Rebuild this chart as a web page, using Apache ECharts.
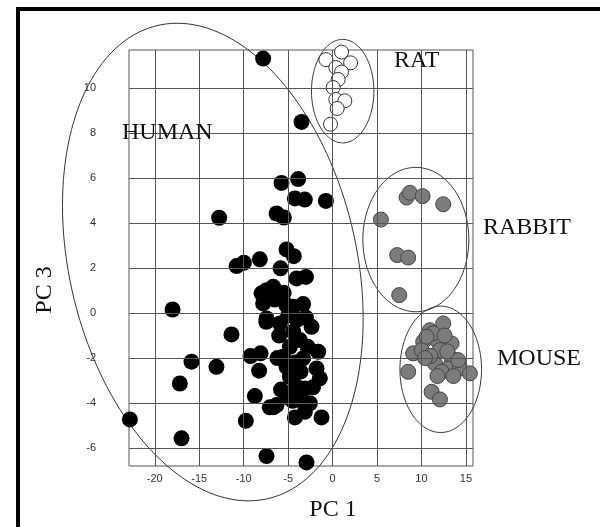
<!DOCTYPE html>
<html>
<head>
<meta charset="utf-8">
<script src="https://cdn.jsdelivr.net/npm/echarts@6/dist/echarts.min.js"></script>
<style>
html,body{margin:0;padding:0;background:#fff;}
#chart{width:600px;height:527px;}
</style>
</head>
<body>
<div id="chart"></div>
<script>
// ---- data ----
var xTicks = [-20, -15, -10, -5, 0, 5, 10, 15];
var yTicks = [-6, -4, -2, 0, 2, 4, 6, 8, 10];

var humanPoints = [
  [-7.81,11.32],[-3.49,8.50],
  [-5.74,5.79],[-3.87,5.96],[-4.24,5.10],[-3.12,5.05],[-0.75,4.99],
  [-12.76,4.24],[-6.30,4.43],[-5.48,4.25],
  [-5.18,2.83],[-4.36,2.53],[-10.80,2.09],[-9.98,2.24],[-8.18,2.39],[-5.85,1.99],[-4.05,1.54],[-3.00,1.61],
  [-18.0,0.16],[-7.43,1.02],[-6.68,1.17],[-7.81,0.43],[-3.31,0.40],[-4.43,0.28],[-7.99,0.88],[-7.43,-0.24],
  [-5.21,0.36],[-7.46,-0.39],[-5.93,-0.46],[-4.43,-0.83],[-2.36,-0.61],[-3.68,-1.2],
  [-11.37,-0.95],[-15.87,-2.16],[-13.06,-2.39],[-17.18,-3.13],[-9.23,-1.91],[-8.10,-1.79],[-8.26,-2.56],
  [-8.74,-3.69],[-9.76,-4.79],[-16.99,-5.57],[-22.8,-4.73],[-7.43,-6.36],[-2.93,-6.64],[-1.24,-4.64],
  [-4.24,-4.64],[-6.68,-4.19],
  [-5.56,-1.94],[-5.18,-2.39],[-3.31,-2.01],[-1.62,-1.72],[-1.80,-2.46],[-1.43,-2.90],[-4.80,-2.83],
  [-4.05,-3.27],[-3.12,-3.35],[-5.18,-3.72],[-3.68,-3.87],[-2.55,-4.01],[-6.30,-4.09],[-7.06,-4.19],[-3.12,-4.39],
  [-6.5,0.6],[-5.0,-0.1],[-6.0,-1.0],[-4.0,-0.3],[-5.5,0.9],[-3.0,-0.2],[-4.8,-1.5],[-2.8,-1.5],
  [-6.2,-2.0],[-4.2,-2.2],[-3.6,-2.6],[-2.2,-3.3],[-4.5,-3.9],[-5.8,-3.4]
];
var ratPoints = [
  [1.01,11.61],[-0.75,11.27],[2.03,11.13],[0.37,10.92],[1.01,10.72],[0.63,10.39],
  [0.07,10.03],[0.37,9.50],[1.38,9.44],[0.52,9.10],[-0.23,8.40]
];
var rabbitPoints = [
  [8.33,5.14],[8.70,5.35],[10.13,5.20],[12.45,4.84],[5.44,4.16],[7.27,2.58],[8.51,2.47],[7.50,0.80]
];
var mousePoints = [
  [12.45,-0.46],[10.95,-0.76],[10.20,-1.27],[11.70,-1.20],[13.39,-1.35],[11.32,-0.90],[9.07,-1.79],
  [10.02,-1.64],[12.08,-1.64],[13.39,-2.01],[11.51,-2.24],[13.01,-2.46],[12.27,-2.61],[14.33,-2.46],
  [15.45,-2.68],[8.51,-2.61],[11.14,-3.50],[12.08,-3.84],[14.13,-2.09],[10.58,-1.05],
  [11.0,-1.9],[12.6,-1.0],[11.8,-2.8],[10.4,-2.0],[13.6,-2.8],[12.9,-1.7]
];

// group ellipses (data units): centre, first semi-diameter, conjugate semi-diameter
var ellipseNames = ['HUMAN', 'RAT', 'RABBIT', 'MOUSE'];
var ellipseCenters = [[-13.47, 2.27], [1.14, 9.87], [9.37, 3.27], [12.17, -2.50]];
var ellipseAxisU = [[-4.01, 10.62], [0, 2.30], [0, 3.21], [0, 2.81]];
var ellipseAxisV = [[16.43, 0], [3.51, 0], [5.96, 0], [4.59, 0]];

// ---- chart ----
var chart = echarts.init(document.getElementById('chart'), null, {renderer: 'canvas'});
var serif = '"Liberation Serif", "Times New Roman", serif';
var sans = '"Liberation Sans", Arial, sans-serif';

var gridLineData = xTicks.map(function (v) { return {xAxis: v}; })
  .concat(yTicks.map(function (v) { return {yAxis: v}; }));

var option = {
  backgroundColor: '#ffffff',
  animation: false,
  grid: {
    left: 129, top: 50, right: 127, bottom: 61,
    show: true, borderColor: '#555', borderWidth: 1, backgroundColor: 'transparent'
  },
  xAxis: {
    type: 'value', min: -22.9, max: 15.8,
    axisLine: {show: false}, axisTick: {show: false}, splitLine: {show: false},
    axisLabel: {customValues: xTicks, color: '#333', fontSize: 11, fontFamily: sans, margin: 7}
  },
  yAxis: {
    type: 'value', min: -6.8, max: 11.7,
    axisLine: {show: false}, axisTick: {show: false}, splitLine: {show: false},
    axisLabel: {customValues: yTicks, color: '#333', fontSize: 11, fontFamily: sans, margin: 33}
  },
  graphic: [
    {type: 'rect', shape: {x: 17, y: 7, width: 583, height: 4}, style: {fill: '#000'}, z: 100},
    {type: 'rect', shape: {x: 16, y: 7, width: 4, height: 520}, style: {fill: '#000'}, z: 100},
    {type: 'text', left: 122, top: 121, z: 100, style: {text: 'HUMAN', font: '24px ' + serif, fill: '#111'}},
    {type: 'text', left: 394, top: 49, z: 100, style: {text: 'RAT', font: '24px ' + serif, fill: '#111'}},
    {type: 'text', left: 483, top: 216, z: 100, style: {text: 'RABBIT', font: '24px ' + serif, fill: '#111'}},
    {type: 'text', left: 497, top: 347, z: 100, style: {text: 'MOUSE', font: '24px ' + serif, fill: '#111'}},
    {type: 'text', x: 333, y: 510, z: 100, style: {text: 'PC 1', font: '24px ' + serif, fill: '#111', align: 'center', verticalAlign: 'middle'}},
    {type: 'text', x: 45, y: 290, rotation: Math.PI / 2, z: 100, style: {text: 'PC 3', font: '24px ' + serif, fill: '#111', align: 'center', verticalAlign: 'middle'}}
  ],
  series: [
    {
      type: 'scatter', data: [], silent: true, z: 1,
      markLine: {
        silent: true, symbol: ['none', 'none'], animation: false,
        label: {show: false},
        lineStyle: {color: '#555', width: 1, type: 'solid'},
        emphasis: {disabled: true},
        data: gridLineData
      }
    },
    {
      type: 'custom', z: 2, silent: true,
      data: ellipseCenters.map(function (c, i) { return [c[0], c[1], i]; }),
      renderItem: function (params, api) {
        var i = api.value(2);
        var c = ellipseCenters[i], u = ellipseAxisU[i], v = ellipseAxisV[i];
        var pts = [];
        var n = 160;
        for (var k = 0; k < n; k++) {
          var t = 2 * Math.PI * k / n;
          var ct = Math.cos(t), st = Math.sin(t);
          pts.push(api.coord([c[0] + u[0] * ct + v[0] * st, c[1] + u[1] * ct + v[1] * st]));
        }
        return {type: 'polygon', shape: {points: pts}, style: {fill: 'none', stroke: '#333', lineWidth: 1}};
      }
    },
    {
      name: 'HUMAN', type: 'scatter', z: 3, data: humanPoints, symbolSize: 16,
      itemStyle: {color: '#000', borderColor: '#000', borderWidth: 0, opacity: 1}
    },
    {
      name: 'RAT', type: 'scatter', z: 3, data: ratPoints, symbolSize: 14,
      itemStyle: {color: '#fff', borderColor: '#333', borderWidth: 1, opacity: 1}
    },
    {
      name: 'RABBIT', type: 'scatter', z: 3, data: rabbitPoints, symbolSize: 15,
      itemStyle: {color: '#7c7c7c', borderColor: '#444', borderWidth: 1, opacity: 1}
    },
    {
      name: 'MOUSE', type: 'scatter', z: 3, data: mousePoints, symbolSize: 15,
      itemStyle: {color: '#7c7c7c', borderColor: '#444', borderWidth: 1, opacity: 1}
    }
  ]
};
chart.setOption(option);
</script>
</body>
</html>
